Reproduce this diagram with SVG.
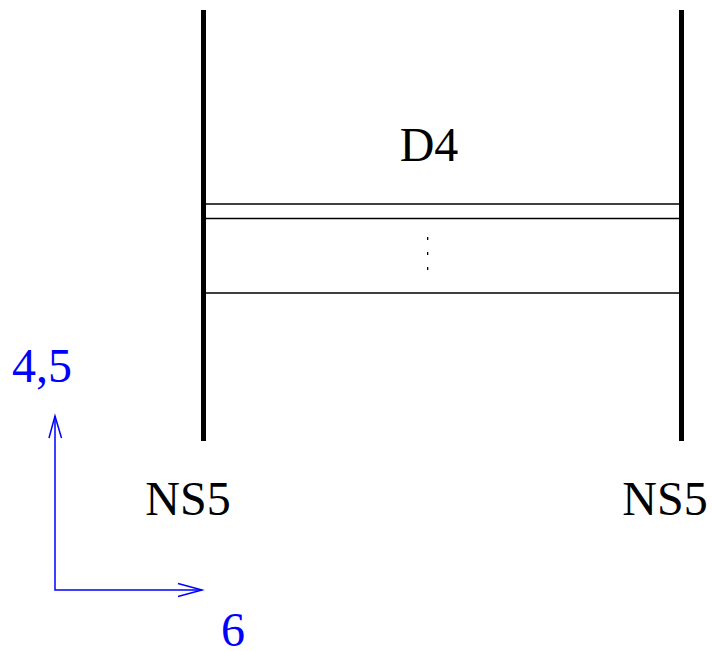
<svg xmlns="http://www.w3.org/2000/svg" width="712" height="651" viewBox="0 0 712 651">
<style>
.t{font-family:"Liberation Serif","Times New Roman",serif;font-size:48px}
.blk{fill:#000}
.blu{fill:#0000ff}
.thick{stroke:#000;stroke-width:5;fill:none}
.thin{stroke:#000;stroke-width:1.5;fill:none}
.ax{stroke:#0000ff;stroke-width:1.5;fill:none}
</style>
<rect width="712" height="651" fill="#fff"/>
<g id="ns5-left">
<line class="thick" x1="203.5" y1="10" x2="203.5" y2="441"/>
<text class="t blk" x="188" y="515" text-anchor="middle">NS5</text>
</g>
<g id="ns5-right">
<line class="thick" x1="681.5" y1="10" x2="681.5" y2="441"/>
<text class="t blk" x="665" y="515" text-anchor="middle">NS5</text>
</g>
<g id="d4">
<text class="t blk" x="429" y="161" text-anchor="middle">D4</text>
</g>
<g id="connectors">
<line class="thin" x1="203" y1="204" x2="681" y2="204"/>
<line class="thin" x1="203" y1="218.5" x2="681" y2="218.5"/>
<line class="thin" x1="203" y1="293" x2="681" y2="293"/>
<rect x="427" y="237" width="1.3" height="3" fill="#000"/>
<rect x="427" y="252" width="1.3" height="3" fill="#000"/>
<rect x="427" y="267" width="1.3" height="3" fill="#000"/>
</g>
<g id="axes">
<polyline class="ax" points="55,416 55,590 202,590"/>
<polyline class="ax" points="49,438 55,416 61.5,438"/>
<polyline class="ax" points="178,583.5 202,590 178,596.5"/>
<text class="t blu" x="42" y="382" text-anchor="middle">4,5</text>
<text class="t blu" x="233" y="646" text-anchor="middle">6</text>
</g>
</svg>
